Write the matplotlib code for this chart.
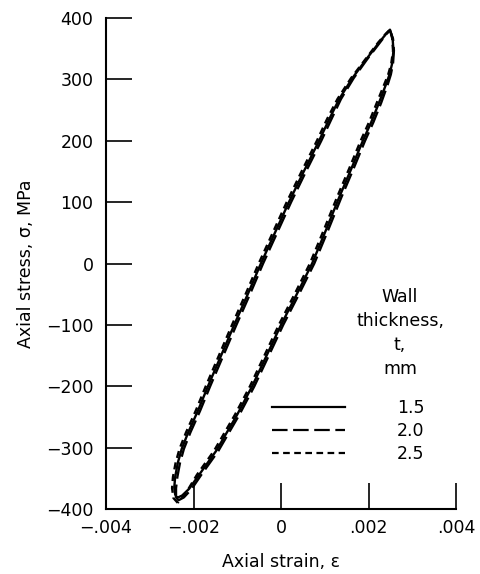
import matplotlib
matplotlib.use("Agg")
import matplotlib.pyplot as plt
from matplotlib.lines import Line2D

plt.rcParams['font.family'] = ['DejaVu Sans']

# ---- data ----
# hysteresis loop: loading branch (bottom tip -> top tip), then unloading branch back to bottom tip
strain_15 = [-0.00238, -0.00242, -0.00244, -0.00242, -0.00236, -0.00227, -0.00212, -0.00190,
             -0.00167, -0.00137, -0.00107, -0.00076, -0.00046, -0.00014, 0.00018, 0.00052,
             0.00087, 0.00110, 0.00133, 0.00163, 0.00194, 0.00224, 0.00240, 0.00249,
             0.00255, 0.00257, 0.00254, 0.00248, 0.00240, 0.00224, 0.00206, 0.00187,
             0.00161, 0.00133, 0.00103, 0.00071, 0.00036, 0.00000, -0.00033, -0.00066,
             -0.00100, -0.00148, -0.00187, -0.00210, -0.00226, -0.00238]
stress_15 = [-382, -376, -365, -348, -325, -302, -275, -240,
             -200, -150, -100, -50, 0, 50, 100, 150,
             200, 235, 268, 302, 332, 360, 374, 381,
             367, 347, 326, 308, 292, 262, 230, 200,
             155, 108, 55, 0, -50, -100, -150, -200,
             -246, -305, -344, -367, -378, -382]

strain_20 = [-0.00235, -0.00240, -0.00240, -0.00237, -0.00231, -0.00222, -0.00207, -0.00185,
             -0.00162, -0.00132, -0.00102, -0.00071, -0.00041, -0.00009, 0.00023, 0.00057,
             0.00092, 0.00115, 0.00137, 0.00166, 0.00196, 0.00226, 0.00241, 0.00249,
             0.00256, 0.00258, 0.00256, 0.00251, 0.00244, 0.00229, 0.00211, 0.00192,
             0.00166, 0.00138, 0.00108, 0.00076, 0.00041, 0.00005, -0.00028, -0.00061,
             -0.00095, -0.00143, -0.00182, -0.00205, -0.00222, -0.00235]
stress_20 = [-386, -380, -366, -348, -325, -302, -275, -240,
             -200, -150, -100, -50, 0, 50, 100, 150,
             200, 235, 268, 302, 332, 360, 374, 380,
             366, 347, 326, 308, 292, 262, 230, 200,
             155, 108, 55, 0, -50, -100, -150, -200,
             -246, -305, -344, -368, -381, -386]

strain_25 = [-0.00236, -0.00246, -0.00249, -0.00247, -0.00241, -0.00232, -0.00217, -0.00195,
             -0.00172, -0.00142, -0.00112, -0.00081, -0.00051, -0.00019, 0.00013, 0.00047,
             0.00082, 0.00105, 0.00129, 0.00160, 0.00192, 0.00222, 0.00239, 0.00249,
             0.00254, 0.00256, 0.00252, 0.00245, 0.00236, 0.00219, 0.00201, 0.00182,
             0.00156, 0.00128, 0.00098, 0.00066, 0.00031, -0.00005, -0.00038, -0.00071,
             -0.00105, -0.00153, -0.00192, -0.00214, -0.00228, -0.00236]
stress_25 = [-390, -382, -366, -348, -325, -302, -275, -240,
             -200, -150, -100, -50, 0, 50, 100, 150,
             200, 235, 268, 302, 332, 360, 374, 381,
             367, 347, 326, 308, 292, 262, 230, 200,
             155, 108, 55, 0, -50, -100, -150, -200,
             -246, -305, -344, -370, -384, -390]

thickness_labels = ['1.5', '2.0', '2.5']
line_styles = ['-', (0, (7, 2.5)), (0, (3, 2))]
legend_title = 'Wall\nthickness,\nt,\nmm'

xticks = [-0.004, -0.002, 0, 0.002, 0.004]
xtick_labels = ['\u2212.004', '\u2212.002', '0', '.002', '.004']
yticks = [-400, -300, -200, -100, 0, 100, 200, 300, 400]
ytick_labels = ['\u2212400', '\u2212300', '\u2212200', '\u2212100', '0', '100', '200', '300', '400']

# ---- figure ----
FS = 12.5
fig = plt.figure(figsize=(4.81, 5.74), dpi=100)
ax = fig.add_axes([0.2204, 0.1132, 0.7277, 0.8554])

series = [(strain_15, stress_15), (strain_20, stress_20), (strain_25, stress_25)]
handles = []
for (sx, sy), ls, lab in zip(series, line_styles, thickness_labels):
    ax.plot(sx, sy, color='black', lw=1.7, linestyle=ls, solid_joinstyle='round',
            solid_capstyle='round')
    handles.append(Line2D([0], [0], color='black', lw=1.6, linestyle=ls, label=lab))

ax.set_xlim(-0.004, 0.004)
ax.set_ylim(-400, 400)
ax.set_xticks(xticks)
ax.set_xticklabels(xtick_labels)
ax.set_yticks(yticks)
ax.set_yticklabels(ytick_labels)

for s in ['top', 'right']:
    ax.spines[s].set_visible(False)
for s in ['left', 'bottom']:
    ax.spines[s].set_linewidth(1.5)

ax.tick_params(axis='both', direction='in', length=18.5, width=1.2, labelsize=FS)
ax.tick_params(axis='y', pad=9)
ax.tick_params(axis='x', pad=7)

ax.set_xlabel('Axial strain, \u03b5', fontsize=FS, labelpad=12)
ax.set_ylabel('Axial stress, \u03c3, MPa', fontsize=FS, labelpad=8)

leg = ax.legend(handles=handles, loc='center left', bbox_to_anchor=(0.474, 0.159),
                frameon=False, fontsize=FS, handlelength=4.2, handletextpad=3.0,
                labelspacing=0.3, borderpad=0, borderaxespad=0)
ax.text(0.84, 0.358, legend_title, transform=ax.transAxes, ha='center', va='center',
        fontsize=FS, linespacing=1.43, multialignment='center')

fig.savefig('out.png', dpi=100)
